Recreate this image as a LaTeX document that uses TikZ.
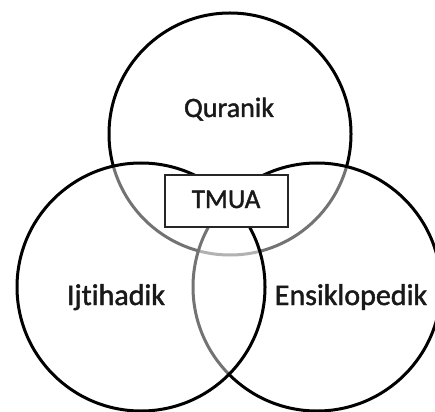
\documentclass[tikz,border=0pt]{standalone}
\usepackage{fontspec}
\setmainfont{Carlito}[Ligatures={NoCommon,NoRequired,NoContextual}]
\newfontfamily\lblfont{Carlito}[Ligatures={NoCommon,NoRequired,NoContextual},FakeBold=1.5]
\begin{document}
\begin{tikzpicture}[x=1pt,y=-1pt,
  venn/.style={draw=black,line width=3pt,fill=white,fill opacity=0.45,draw opacity=1},
  lbl/.style={font=\lblfont\fontsize{30}{34}\selectfont,text=black!90,anchor=base,inner sep=0pt},
  boxnode/.style={draw=black!85,line width=1.2pt,fill=white,minimum width=123pt,minimum height=52pt,inner sep=0pt}]
\useasboundingbox (0,0) rectangle (435,411);
\fill[white] (0,0) rectangle (435,411);
\draw[venn] (230,134) circle[radius=121];
\draw[venn] (317,287) circle[radius=124];
\draw[venn] (141,287) circle[radius=124];
\node[boxnode] (tmua) at (226.5,201) {};
\node[lbl,font=\lblfont\fontsize{27}{31}\selectfont] (t) at (226,208) {TMUA};
\node[lbl,font=\lblfont\fontsize{28}{32}\selectfont] (q) at (229,117) {Quranik};
\node[lbl] (ij) at (116,305) {Ijtihadik};
\node[lbl] (en) at (351,305) {Ensiklopedik};
\end{tikzpicture}
\end{document}
